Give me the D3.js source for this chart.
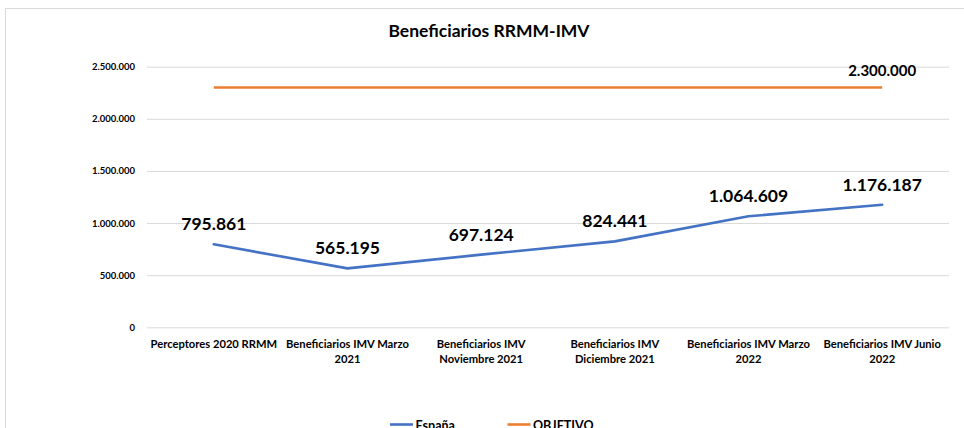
<!DOCTYPE html>
<html>
<head>
<meta charset="utf-8">
<script src="https://cdn.jsdelivr.net/npm/d3@7/dist/d3.min.js"></script>
<style>
  html, body { margin: 0; padding: 0; background: #fff; overflow: hidden; }
  svg { display: block; font-family: Lato, "Open Sans", sans-serif; }
</style>
</head>
<body>
<svg id="chart"></svg>
<script>
const categories = [
  'Perceptores 2020 RRMM',
  'Beneficiarios IMV Marzo 2021',
  'Beneficiarios IMV Noviembre 2021',
  'Beneficiarios IMV Diciembre 2021',
  'Beneficiarios IMV Marzo 2022',
  'Beneficiarios IMV Junio 2022',
];
const espana   = [795861, 565195, 697124, 824441, 1064609, 1176187];
const objetivo = [2300000, 2300000, 2300000, 2300000, 2300000, 2300000];
const yTicks   = [0, 500000, 1000000, 1500000, 2000000, 2500000];

const W = 964, H = 428;
const M = { top: 66.7, right: 15, bottom: 100.7, left: 147 };
const BLUE = '#4472C4', ORANGE = '#ED7D31', GRID = '#d9d9d9';

const fmt = d3.formatLocale({ decimal: ',', thousands: '.', grouping: [3], currency: ['', '€'] }).format(',d');

const svg = d3.select('#chart').attr('width', W).attr('height', H);

// chart frame (runs off the right and bottom edges)
svg.append('rect')
  .attr('x', 5.5).attr('y', 8.5).attr('width', W + 20).attr('height', H + 20)
  .attr('fill', '#fff').attr('stroke', GRID);

const x = d3.scaleBand().domain(categories).range([M.left, W - M.right]);
const y = d3.scaleLinear().domain([0, 2500000]).range([H - M.bottom, M.top]);
const cx = d => x(d) + x.bandwidth() / 2;

// title
svg.append('text')
  .attr('x', 489).attr('y', 37)
  .attr('text-anchor', 'middle')
  .attr('font-size', 17.5).attr('font-weight', 700)
  .text('Beneficiarios RRMM-IMV');

// gridlines + y labels
const yAxis = svg.append('g')
  .attr('transform', `translate(${M.left},0)`)
  .call(d3.axisLeft(y).tickValues(yTicks).tickFormat(fmt)
    .tickSize(-(W - M.right - M.left)).tickPadding(12));
yAxis.select('.domain').remove();
yAxis.selectAll('line').attr('stroke', GRID).attr('stroke-width', 1);
yAxis.selectAll('text')
  .attr('font-size', 9.5).attr('font-weight', 700).attr('fill', '#000')
  .attr('font-family', 'Lato, sans-serif');

// category labels, wrapped to band width
const xAxis = svg.append('g')
  .attr('transform', `translate(0,${H - M.bottom})`)
  .call(d3.axisBottom(x).tickSize(0).tickPadding(13));
xAxis.select('.domain').remove();
xAxis.selectAll('text')
  .attr('font-size', 11.2).attr('font-weight', 700).attr('fill', '#000')
  .attr('font-family', 'Lato, sans-serif')
  .each(function (d) {
    const t = d3.select(this);
    const words = d.split(' ');
    t.text(null);
    let line = [], tspan = t.append('tspan').attr('x', 0).attr('dy', '0.71em');
    words.forEach(w => {
      line.push(w);
      tspan.text(line.join(' '));
      if (tspan.node().getComputedTextLength() > x.bandwidth() - 2 && line.length > 1) {
        line.pop();
        tspan.text(line.join(' '));
        line = [w];
        tspan = t.append('tspan').attr('x', 0).attr('dy', 14.5).text(w);
      }
    });
  });

// lines
const line = d3.line().x((d, i) => cx(categories[i])).y(d => y(d));

svg.append('path')
  .datum(objetivo)
  .attr('d', line)
  .attr('fill', 'none').attr('stroke', ORANGE).attr('stroke-width', 2.6)
  .attr('stroke-linejoin', 'round');

svg.append('path')
  .datum(espana)
  .attr('d', line)
  .attr('fill', 'none').attr('stroke', BLUE).attr('stroke-width', 2.6)
  .attr('stroke-linejoin', 'round').attr('stroke-linecap', 'round');

// data labels
svg.selectAll('.lbl-esp')
  .data(espana)
  .join('text')
  .attr('class', 'lbl-esp')
  .attr('x', (d, i) => cx(categories[i]))
  .attr('y', d => y(d) - 14)
  .attr('text-anchor', 'middle')
  .attr('font-size', 17.5).attr('font-weight', 700)
  .text(fmt);

const last = objetivo.length - 1;
svg.append('text')
  .attr('x', cx(categories[last]))
  .attr('y', y(objetivo[last]) - 12)
  .attr('text-anchor', 'middle')
  .attr('font-size', 15).attr('font-weight', 700)
  .text(fmt(objetivo[last]));

// legend
const legend = [
  { name: 'España', color: BLUE, x: 390 },
  { name: 'OBJETIVO', color: ORANGE, x: 507.5 },
];
const lg = svg.selectAll('.legend').data(legend).join('g')
  .attr('class', 'legend')
  .attr('transform', d => `translate(${d.x},424.5)`);
lg.append('line').attr('x1', 0).attr('x2', 23)
  .attr('stroke', d => d.color).attr('stroke-width', 2.6);
lg.append('text').attr('x', 25.5).attr('y', 5.5)
  .attr('font-size', 12.5).attr('font-weight', 700)
  .text(d => d.name);
</script>
</body>
</html>
